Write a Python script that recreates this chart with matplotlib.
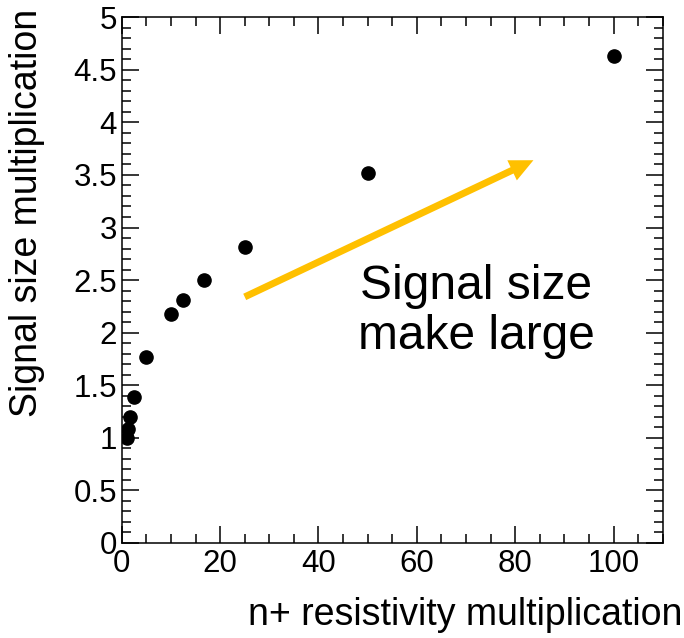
import matplotlib.pyplot as plt
from matplotlib.ticker import MultipleLocator, FormatStrFormatter

# n+ resistivity multiplication vs signal size multiplication
resistivity = [1.0, 1.2, 1.6, 2.5, 5.0, 10.0, 12.5, 16.7, 25.0, 50.0, 100.0]
signal = [1.0, 1.08, 1.2, 1.39, 1.77, 2.18, 2.31, 2.50, 2.81, 3.52, 4.63]

arrow_tail = (25.0, 2.34)
arrow_tip = (83.7, 3.64)

plt.rcParams.update({
    "font.family": ["Liberation Sans", "DejaVu Sans"],
    "axes.linewidth": 1.1,
})

fig = plt.figure(figsize=(6.84, 6.38), dpi=100)
ax = fig.add_axes([0.178, 0.149, 0.791, 0.824])

ax.plot(resistivity, signal, "o", color="black", markersize=9.5, zorder=3)

ax.annotate("", xy=arrow_tip, xytext=arrow_tail,
            arrowprops=dict(facecolor="#FFC000", edgecolor="none",
                            width=5, headwidth=16, headlength=17, shrink=0))
ax.text(72.1, 2.2, "Signal size\nmake large", fontsize=34.5,
        ha="center", va="center", linespacing=1.15)

ax.set_xlim(0, 110)
ax.set_ylim(0, 5)
ax.xaxis.set_major_locator(MultipleLocator(20))
ax.xaxis.set_minor_locator(MultipleLocator(5))
ax.yaxis.set_major_locator(MultipleLocator(0.5))
ax.yaxis.set_minor_locator(MultipleLocator(0.1))
ax.yaxis.set_major_formatter(FormatStrFormatter("%g"))

ax.tick_params(which="both", direction="in", top=True, right=True,
               labelsize=22.5, width=1.1)
ax.tick_params(axis="x", pad=4.5)
ax.tick_params(axis="y", pad=3.5)
ax.tick_params(which="major", length=12)
ax.tick_params(which="minor", length=6.3)

ax.set_xlabel("n+ resistivity multiplication", fontsize=27, ha="right")
ax.xaxis.set_label_coords(1.037, -0.103)
ax.set_ylabel("Signal size multiplication", fontsize=27, loc="top")
ax.yaxis.set_label_coords(-0.142, 1.015)

fig.savefig("out.png", dpi=100)
